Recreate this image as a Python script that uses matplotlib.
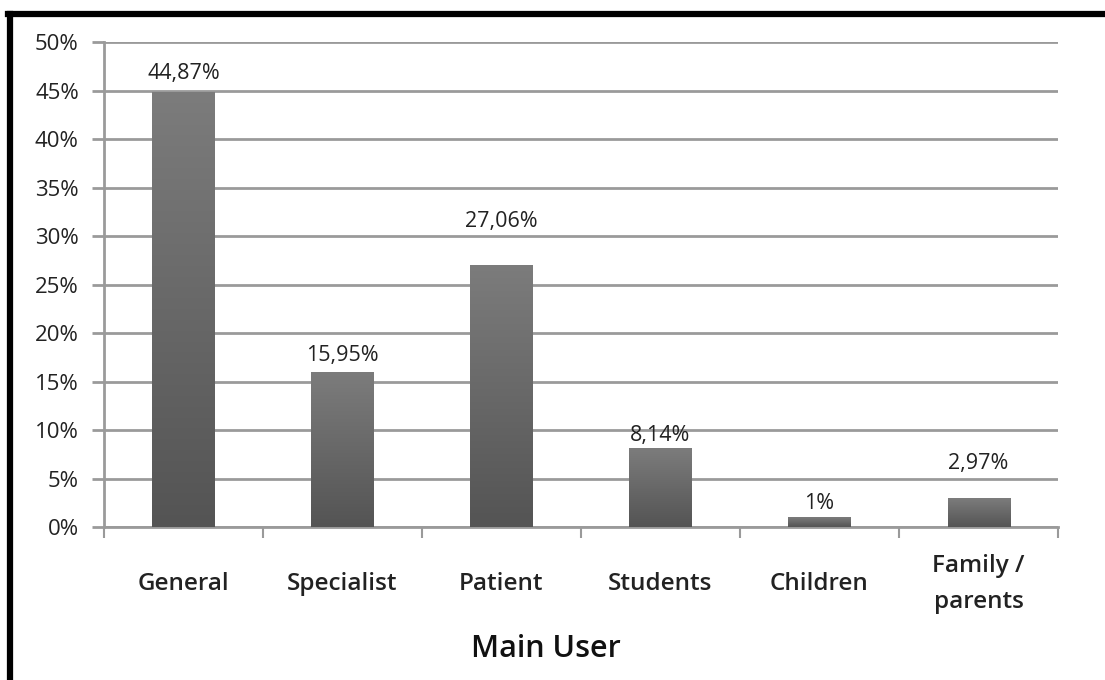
import matplotlib
matplotlib.use("Agg")
import matplotlib.pyplot as plt
from matplotlib.lines import Line2D
import numpy as np

categories = ["General", "Specialist", "Patient", "Students", "Children", "Family /\nparents"]
values = [44.87, 15.95, 27.06, 8.14, 1.0, 2.97]
labels = ["44,87%", "15,95%", "27,06%", "8,14%", "1%", "2,97%"]
yticks = [0, 5, 10, 15, 20, 25, 30, 35, 40, 45, 50]

plt.rcParams['font.family'] = ['Open Sans', 'DejaVu Sans']

fig = plt.figure(figsize=(11.05, 6.8), dpi=100)
ax = fig.add_axes([0.094, 0.225, 0.8635, 0.713])

x = np.arange(len(categories))
bars = ax.bar(x, values, width=0.39, color="#606060", zorder=3)

# vertical gradient in each bar (light at top, dark at bottom)
grad = np.linspace(0, 1, 256).reshape(-1, 1)
cmap = matplotlib.colors.LinearSegmentedColormap.from_list("g", ["#545454", "#7c7c7c"])
for b in bars:
    x0, y0 = b.get_x(), b.get_y()
    w, h = b.get_width(), b.get_height()
    im = ax.imshow(grad, extent=[x0, x0 + w, y0, y0 + h], origin="lower",
                   cmap=cmap, aspect="auto", zorder=4)
    im.set_clip_path(b)

# excel put the labels at uneven heights above the bars
label_pad = [1.9, 1.7, 4.4, 1.3, 1.4, 3.6]
for xi, v, lab, p in zip(x, values, labels, label_pad):
    ax.text(xi, v + p, lab, ha="center", va="center", fontsize=15.5, color="#222222")

ax.set_xlim(-0.5, len(categories) - 0.5)
ax.set_ylim(0, 50)
ax.set_yticks(yticks)
ax.set_yticklabels([f"{t}%" for t in yticks], fontsize=16, color="#222222")
ax.yaxis.grid(True, color="#9a9a9a", linewidth=2, zorder=0)
ax.tick_params(axis="y", length=9, width=2, color="#9a9a9a", pad=9)

ax.set_xticks(np.arange(-0.5, len(categories), 1.0))
ax.set_xticklabels([])
ax.tick_params(axis="x", length=8, width=1.5, color="#9a9a9a", direction="out")

for xi, cat in zip(x, categories):
    ax.text(xi, -5.9, cat, ha="center", va="center", fontsize=17.5, fontweight="semibold",
            color="#222222", linespacing=1.65, clip_on=False)

for s in ["top", "right"]:
    ax.spines[s].set_visible(False)
ax.spines["left"].set_color("#9a9a9a")
ax.spines["left"].set_linewidth(2)
ax.spines["bottom"].set_color("#9a9a9a")
ax.spines["bottom"].set_linewidth(2)

fig.text(0.494, 0.046, "Main User", ha="center", va="center", fontsize=22,
         fontweight="semibold", color="#111111")

# black frame on top and left
fig.add_artist(Line2D([0.0095, 0.0095], [0.0, 0.979], color="black", linewidth=4.5,
                      transform=fig.transFigure))
fig.add_artist(Line2D([0.0075, 1.0], [0.979, 0.979], color="black", linewidth=4.5,
                      transform=fig.transFigure))

fig.savefig("out.png", dpi=100)
